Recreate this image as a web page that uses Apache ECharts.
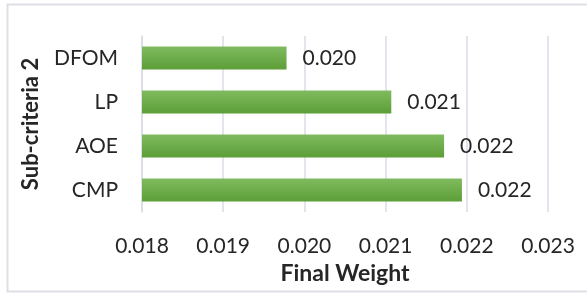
<!DOCTYPE html>
<html>
<head>
<meta charset="utf-8">
<script src="https://cdn.jsdelivr.net/npm/echarts@6/dist/echarts.min.js"></script>
<style>
    html, body { margin: 0; padding: 0; background: #fff; }
    #chart { width: 587px; height: 293px; }
</style>
</head>
<body>
<div id="chart"></div>
<script>
// bottom to top, as drawn
const categories = ['CMP', 'AOE', 'LP', 'DFOM'];
const finalWeights = [0.02194, 0.02172, 0.02107, 0.01978];
const axisMin = 0.018;
const axisMax = 0.023;
const axisStep = 0.001;

const font = 'Lato, "Open Sans", sans-serif';

const chart = echarts.init(document.getElementById('chart'));
const option = {
    animation: false,
    grid: { left: 142, right: 39, top: 36, bottom: 81 },
    graphic: [{
        type: 'rect',
        shape: { x: 7.5, y: 4.5, width: 600, height: 287 },
        style: { fill: 'none', stroke: '#dfe0e6', lineWidth: 2 },
        silent: true
    }],
    xAxis: {
        type: 'value',
        min: axisMin,
        max: axisMax,
        interval: axisStep,
        name: 'Final Weight',
        nameLocation: 'middle',
        nameGap: 48,
        nameTextStyle: { fontFamily: font, fontSize: 23, fontWeight: 'bold', color: '#262626' },
        axisLine: { show: false },
        axisTick: { show: false },
        axisLabel: {
            margin: 24,
            fontFamily: font, fontSize: 21, color: '#262626',
            formatter: v => v.toFixed(3)
        },
        splitLine: { lineStyle: { color: '#d9dde6', width: 1.5 } }
    },
    yAxis: {
        type: 'category',
        data: categories,
        name: 'Sub-criteria 2',
        nameLocation: 'middle',
        nameGap: 100,
        nameRotate: 90,
        nameTextStyle: { fontFamily: font, fontSize: 22, fontWeight: 'bold', color: '#262626' },
        axisLine: { show: true, lineStyle: { color: '#d9dde6', width: 1.5 } },
        axisTick: { show: false },
        axisLabel: { margin: 24, fontFamily: font, fontSize: 21, color: '#262626' }
    },
    series: [{
        type: 'bar',
        data: finalWeights,
        barWidth: 23,
        itemStyle: {
            color: new echarts.graphic.LinearGradient(0, 0, 0, 1, [
                { offset: 0, color: '#80bb5f' },
                { offset: 1, color: '#5c9e37' }
            ])
        },
        label: {
            show: true,
            position: 'right',
            distance: 16,
            fontFamily: font, fontSize: 21, color: '#262626',
            formatter: p => p.value.toFixed(3)
        }
    }]
};
chart.setOption(option);
</script>
</body>
</html>
